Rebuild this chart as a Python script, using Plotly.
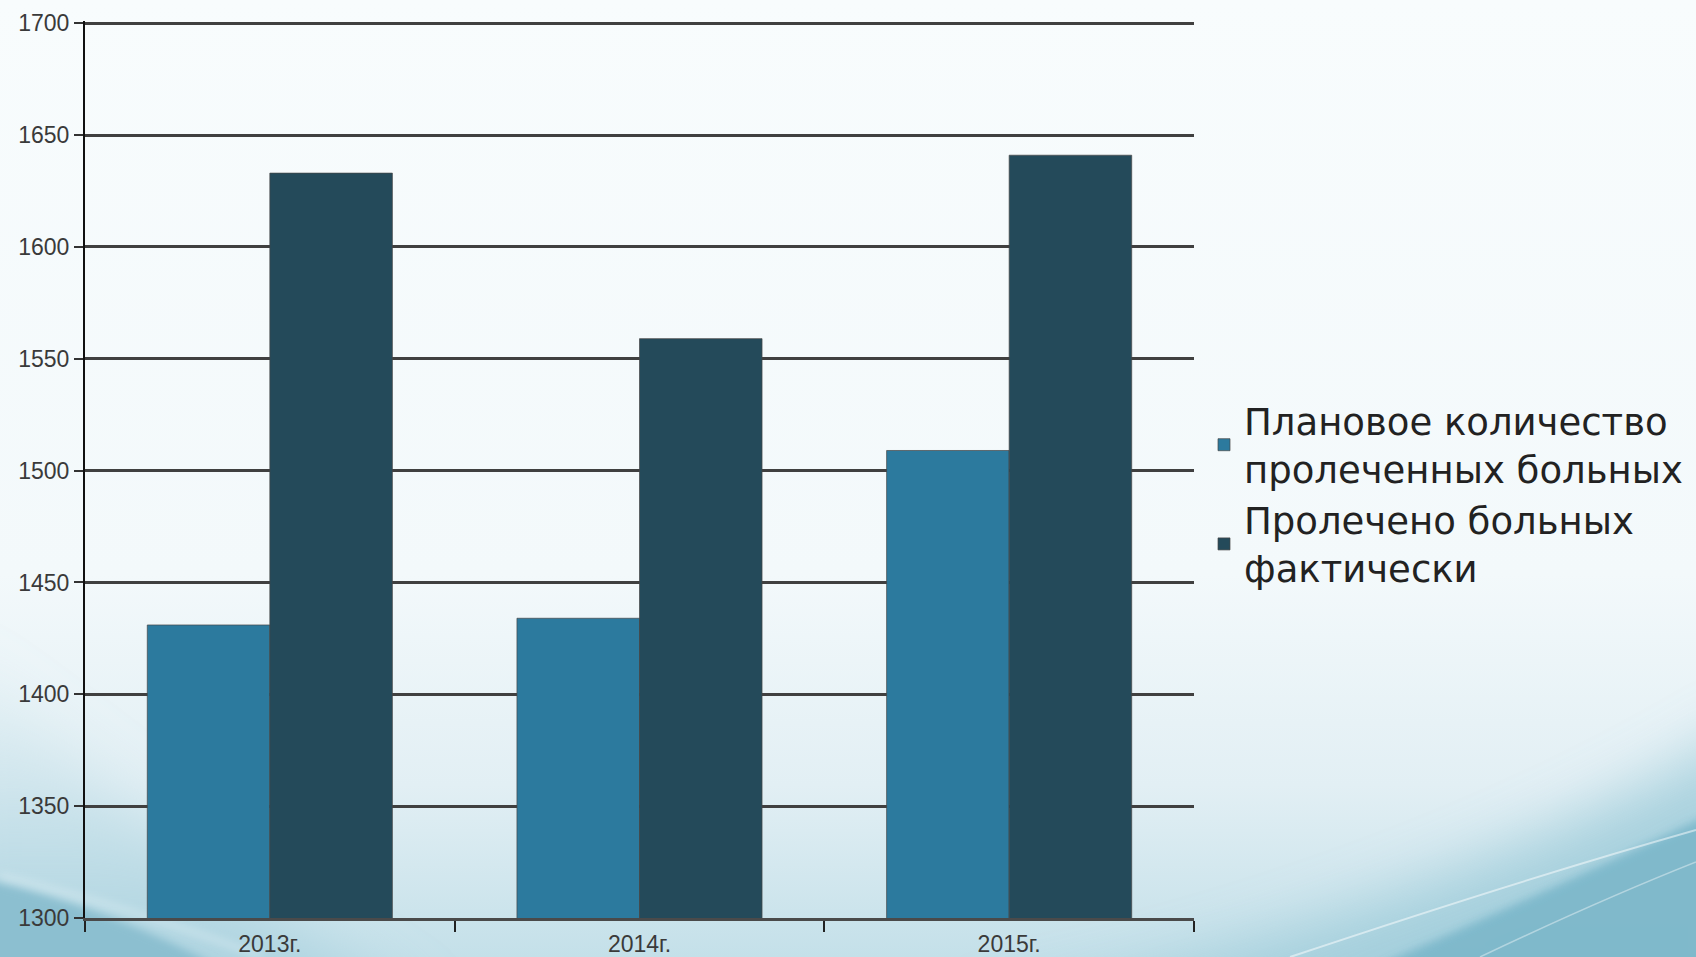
import base64
import plotly.graph_objects as go

# Data
years = ["2013г.", "2014г.", "2015г."]
planned = [1431, 1434, 1509]
treated = [1633, 1559, 1641]
planned_name = "Плановое количество<br>пролеченных больных"
treated_name = "Пролечено больных<br>фактически"
y_ticks = [1300, 1350, 1400, 1450, 1500, 1550, 1600, 1650, 1700]

W, H = 1696, 957
M_L, M_R, M_T, M_B = 85, 502, 21, 39

# Slide-style backdrop: pale top fading into blue toward the bottom corners
bg_svg = f"""<svg xmlns='http://www.w3.org/2000/svg' width='{W}' height='{H}' viewBox='0 0 {W} {H}'>
<defs>
<linearGradient id='g' x1='0' y1='0' x2='0' y2='1'>
<stop offset='0' stop-color='#f8fcfd'/>
<stop offset='0.6' stop-color='#f3f9fb'/>
<stop offset='0.82' stop-color='#e2eff4'/>
<stop offset='1' stop-color='#c4e0e9'/>
</linearGradient>
<linearGradient id='lft' x1='0' y1='0' x2='0' y2='1'>
<stop offset='0' stop-color='#b3d7e2' stop-opacity='0'/>
<stop offset='1' stop-color='#a9d1de' stop-opacity='0.95'/>
</linearGradient>
<filter id='b1' x='-50%' y='-50%' width='200%' height='200%'><feGaussianBlur stdDeviation='30'/></filter>
<filter id='b2' x='-20%' y='-20%' width='140%' height='140%'><feGaussianBlur stdDeviation='4'/></filter>
</defs>
<rect width='{W}' height='{H}' fill='url(#g)'/>
<path d='M-60,640 Q120,810 420,1020 L-60,1020 Z' fill='url(#lft)' filter='url(#b1)'/>
<path d='M-20,878 Q130,912 260,990 L-20,990 Z' fill='#8cbfd0' filter='url(#b2)'/>
<path d='M0,876 Q140,910 262,957' stroke='#e6f2f6' stroke-opacity='0.8' stroke-width='3' fill='none' filter='url(#b2)'/>
<path d='M950,1020 Q1420,930 1760,720 L1760,1020 Z' fill='#9ccbd9' opacity='0.8' filter='url(#b1)'/>
<path d='M1300,1000 Q1530,900 1740,800 L1740,1000 Z' fill='#7cb7ca' opacity='0.9' filter='url(#b2)'/>
<path d='M1290,957 Q1520,880 1696,830' stroke='#ffffff' stroke-opacity='0.5' stroke-width='2' fill='none'/>
<path d='M1480,957 Q1600,900 1696,862' stroke='#ffffff' stroke-opacity='0.4' stroke-width='1.5' fill='none'/>
</svg>"""
bg_uri = "data:image/svg+xml;base64," + base64.b64encode(bg_svg.encode("utf-8")).decode("ascii")

plot_w = W - M_L - M_R
plot_h = H - M_T - M_B

fig = go.Figure()
fig.add_bar(
    x=years, y=planned, name=planned_name,
    marker=dict(color="#2c7a9e", line=dict(color="rgba(70,70,70,0.7)", width=1)),
)
fig.add_bar(
    x=years, y=treated, name=treated_name,
    marker=dict(color="#244a5a", line=dict(color="rgba(70,70,70,0.7)", width=1)),
)

axis_font = dict(family="Liberation Sans, Arial, sans-serif", size=23, color="#3a3a3a")

fig.update_layout(
    width=W, height=H, autosize=False,
    margin=dict(l=M_L, r=M_R, t=M_T, b=M_B, pad=0, autoexpand=False),
    paper_bgcolor="#ffffff",
    plot_bgcolor="rgba(0,0,0,0)",
    barmode="group", bargap=0.337, bargroupgap=0,
    images=[dict(
        source=bg_uri, xref="paper", yref="paper",
        x=-M_L / plot_w, y=1 + M_T / plot_h,
        sizex=W / plot_w, sizey=H / plot_h,
        xanchor="left", yanchor="top", sizing="stretch", layer="below",
    )],
    xaxis=dict(
        automargin=False,
        showline=True, linecolor="#4a4a4a", linewidth=2.5,
        ticks="outside", tickson="boundaries", ticklen=11, tickwidth=2, tickcolor="#222222",
        ticklabelstandoff=4,
        showgrid=False, tickfont=axis_font,
    ),
    yaxis=dict(
        automargin=False,
        # small headroom so the 1700 gridline is kept inside the plot area
        range=[1300, 1701], tickvals=y_ticks,
        showgrid=True, gridcolor="#404040", gridwidth=2.5, zeroline=False,
        showline=True, linecolor="#111111", linewidth=2,
        ticks="outside", ticklen=9, tickwidth=2, tickcolor="#333333",
        tickfont=axis_font,
    ),
    legend=dict(
        x=(1204 - M_L) / plot_w, xanchor="left",
        y=0.472, yanchor="middle",
        valign="middle", itemwidth=30,
        bgcolor="rgba(0,0,0,0)", borderwidth=0,
        font=dict(family="DejaVu Sans, Verdana, sans-serif", size=37, color="#222222"),
        traceorder="normal",
    ),
    showlegend=True,
)

fig.write_html("out.html")
